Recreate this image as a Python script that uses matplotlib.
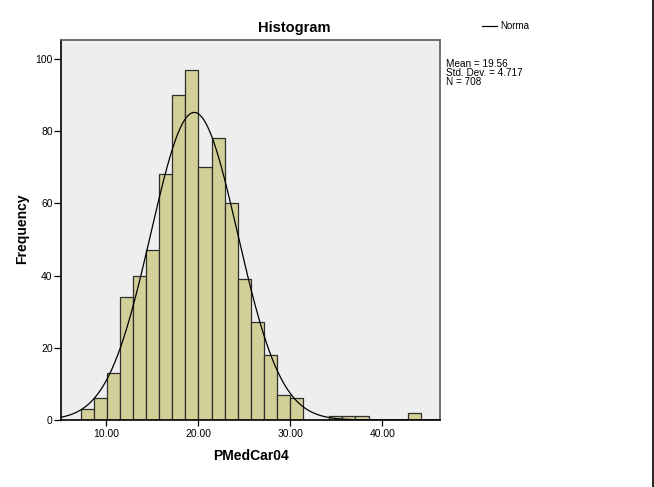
import numpy as np
import matplotlib
matplotlib.use("Agg")
import matplotlib.pyplot as plt

plt.rcParams["font.family"] = ["Liberation Sans", "DejaVu Sans"]

# ── data ────────────────────────────────────────────────────────────────────
counts = [3, 6, 13, 34, 40, 47, 68, 90, 97, 70, 78, 60, 39,
          27, 18, 7, 6, 0, 0, 1, 1, 1, 0, 0, 0, 2]
bin_start = 7.22
bin_width = 1.422
mean_val = 19.56
std_val = 4.717
n_val = 708
x_ticks = [10, 20, 30, 40]
x_ticklabels = ["10.00", "20.00", "30.00", "40.00"]
y_ticks = [0, 20, 40, 60, 80, 100]

# ── figure ──────────────────────────────────────────────────────────────────
W, H = 654, 487
fig = plt.figure(figsize=(W / 100, H / 100), dpi=100)
ax = fig.add_axes([61 / W, 1 - 420 / H, (440 - 61) / W, (420 - 40) / H])
ax.set_facecolor("#eeeeee")

lefts = bin_start + bin_width * np.arange(len(counts))
ax.bar(lefts, counts, width=bin_width, align="edge",
       color="#d3cf98", edgecolor="#2e2e2e", linewidth=0.9, zorder=2)

# fitted normal curve scaled to counts
xmin, xmax = 5.08, 46.27
xs = np.linspace(xmin, xmax, 400)
scale = n_val * bin_width / (std_val * np.sqrt(2 * np.pi))
ys = scale * np.exp(-0.5 * ((xs - mean_val) / std_val) ** 2)
ax.plot(xs, ys, color="black", linewidth=0.9, zorder=3)

ax.set_xlim(xmin, xmax)
ax.set_ylim(0, 105.2)
ax.set_xticks(x_ticks)
ax.set_xticklabels(x_ticklabels)
ax.set_yticks(y_ticks)
ax.tick_params(axis="x", direction="out", length=4.5, width=0.9,
               labelsize=7.5, colors="black", pad=2)
ax.tick_params(axis="y", direction="out", length=5, width=0.9,
               labelsize=7.5, colors="black", pad=1)

for side in ("top", "right"):
    ax.spines[side].set_color("#5a5a5a")
    ax.spines[side].set_linewidth(1.2)
for side in ("left", "bottom"):
    ax.spines[side].set_color("black")
    ax.spines[side].set_linewidth(1.2)

# titles / labels
fig.text(294 / W, 1 - 28 / H, "Histogram", ha="center", va="center",
         fontsize=10.5, fontweight="bold")
fig.text(251 / W, 1 - 456 / H, "PMedCar04", ha="center", va="center",
         fontsize=10, fontweight="bold")
fig.text(22 / W, 1 - 229 / H, "Frequency", ha="center", va="center",
         rotation=90, fontsize=10, fontweight="bold")

# legend ("Norma") and stats block
fig.add_artist(plt.Line2D([482 / W, 497 / W], [1 - 26 / H, 1 - 26 / H],
                          color="black", linewidth=0.9))
fig.text(500 / W, 1 - 26 / H, "Norma", ha="left", va="center", fontsize=7)
stats = [f"Mean = {mean_val:.2f}", f"Std. Dev. = {std_val:.3f}", f"N = {n_val}"]
for i, line in enumerate(stats):
    fig.text(446 / W, 1 - (64 + 9 * i) / H, line, ha="left", va="center",
             fontsize=7.2)

# outer frame line on the right edge
fig.add_artist(plt.Line2D([652.5 / W, 652.5 / W], [0, 1],
                          color="black", linewidth=1.2))

fig.savefig("out.png", dpi=100)
